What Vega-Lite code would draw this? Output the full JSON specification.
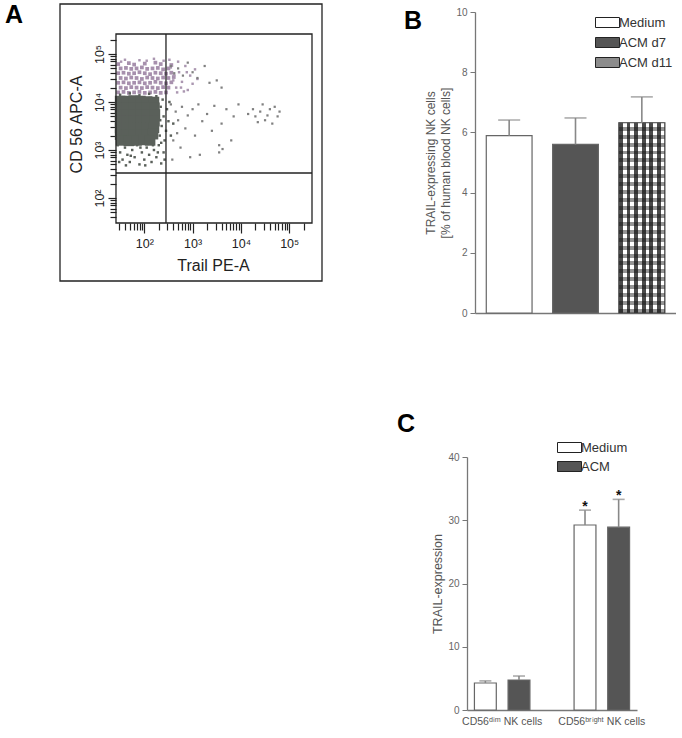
{
"$schema": "https://vega.github.io/schema/vega-lite/v6.json",
"background": "white",
"padding": {"left": 5, "top": 3, "right": 0, "bottom": 0},
"config": {"view": {"stroke": null}, "font": "Liberation Sans", "axis": {"labelOverlap": false}},
"spacing": 74,
"resolve": {"scale": {"fill": "independent", "color": "independent", "size": "independent"}, "legend": {"fill": "independent", "color": "independent", "size": "independent"}},
"hconcat": [
{
 "width": 262, "height": 269,
 "title": {"text": "A", "anchor": "start", "frame": "group", "dx": -55, "dy": 29, "fontSize": 25, "fontWeight": "bold", "color": "#000"},
 "layer": [
  {
   "data": {"values": [
{"pe":1.46,"cd56":4.79,"pop":"bright-dense"},{"pe":1.68,"cd56":4.81,"pop":"bright-dense"},{"pe":1.79,"cd56":4.78,"pop":"bright-dense"},{"pe":2.01,"cd56":4.80,"pop":"bright-dense"},{"pe":2.23,"cd56":4.82,"pop":"bright-dense"},{"pe":2.34,"cd56":4.79,"pop":"bright-dense"},{"pe":2.56,"cd56":4.77,"pop":"bright-dense"},
{"pe":1.51,"cd56":4.70,"pop":"bright-dense"},{"pe":1.62,"cd56":4.71,"pop":"bright-dense"},{"pe":1.73,"cd56":4.69,"pop":"bright-dense"},{"pe":1.84,"cd56":4.70,"pop":"bright-dense"},{"pe":1.95,"cd56":4.72,"pop":"bright-dense"},{"pe":2.06,"cd56":4.69,"pop":"bright-dense"},{"pe":2.17,"cd56":4.70,"pop":"bright-dense"},{"pe":2.28,"cd56":4.71,"pop":"bright-dense"},{"pe":2.39,"cd56":4.68,"pop":"bright-dense"},{"pe":2.50,"cd56":4.70,"pop":"bright-dense"},
{"pe":1.46,"cd56":4.60,"pop":"bright-dense"},{"pe":1.57,"cd56":4.61,"pop":"bright-dense"},{"pe":1.68,"cd56":4.59,"pop":"bright-dense"},{"pe":1.79,"cd56":4.60,"pop":"bright-dense"},{"pe":1.90,"cd56":4.62,"pop":"bright-dense"},{"pe":2.01,"cd56":4.60,"pop":"bright-dense"},{"pe":2.12,"cd56":4.58,"pop":"bright-dense"},{"pe":2.23,"cd56":4.61,"pop":"bright-dense"},{"pe":2.34,"cd56":4.60,"pop":"bright-dense"},{"pe":2.45,"cd56":4.59,"pop":"bright-dense"},{"pe":2.56,"cd56":4.61,"pop":"bright-dense"},
{"pe":1.51,"cd56":4.50,"pop":"bright-dense"},{"pe":1.62,"cd56":4.49,"pop":"bright-dense"},{"pe":1.73,"cd56":4.51,"pop":"bright-dense"},{"pe":1.84,"cd56":4.50,"pop":"bright-dense"},{"pe":1.95,"cd56":4.48,"pop":"bright-dense"},{"pe":2.06,"cd56":4.51,"pop":"bright-dense"},{"pe":2.17,"cd56":4.50,"pop":"bright-dense"},{"pe":2.28,"cd56":4.49,"pop":"bright-dense"},{"pe":2.39,"cd56":4.51,"pop":"bright-dense"},{"pe":2.50,"cd56":4.50,"pop":"bright-dense"},{"pe":2.61,"cd56":4.52,"pop":"bright-dense"},
{"pe":1.46,"cd56":4.40,"pop":"bright-dense"},{"pe":1.57,"cd56":4.41,"pop":"bright-dense"},{"pe":1.68,"cd56":4.39,"pop":"bright-dense"},{"pe":1.79,"cd56":4.40,"pop":"bright-dense"},{"pe":1.90,"cd56":4.41,"pop":"bright-dense"},{"pe":2.01,"cd56":4.39,"pop":"bright-dense"},{"pe":2.12,"cd56":4.40,"pop":"bright-dense"},{"pe":2.23,"cd56":4.42,"pop":"bright-dense"},{"pe":2.34,"cd56":4.40,"pop":"bright-dense"},{"pe":2.45,"cd56":4.39,"pop":"bright-dense"},{"pe":2.56,"cd56":4.41,"pop":"bright-dense"},
{"pe":1.51,"cd56":4.30,"pop":"bright-dense"},{"pe":1.62,"cd56":4.29,"pop":"bright-dense"},{"pe":1.73,"cd56":4.31,"pop":"bright-dense"},{"pe":1.84,"cd56":4.30,"pop":"bright-dense"},{"pe":1.95,"cd56":4.29,"pop":"bright-dense"},{"pe":2.06,"cd56":4.31,"pop":"bright-dense"},{"pe":2.17,"cd56":4.30,"pop":"bright-dense"},{"pe":2.28,"cd56":4.29,"pop":"bright-dense"},{"pe":2.39,"cd56":4.31,"pop":"bright-dense"},{"pe":2.50,"cd56":4.30,"pop":"bright-dense"},
{"pe":1.46,"cd56":4.20,"pop":"bright-dense"},{"pe":1.57,"cd56":4.21,"pop":"bright-dense"},{"pe":1.68,"cd56":4.19,"pop":"bright-dense"},{"pe":1.79,"cd56":4.20,"pop":"bright-dense"},{"pe":1.90,"cd56":4.21,"pop":"bright-dense"},{"pe":2.01,"cd56":4.19,"pop":"bright-dense"},{"pe":2.12,"cd56":4.20,"pop":"bright-dense"},{"pe":2.23,"cd56":4.21,"pop":"bright-dense"},{"pe":2.34,"cd56":4.19,"pop":"bright-dense"},{"pe":2.45,"cd56":4.20,"pop":"bright-dense"},
{"pe":2.55,"cd56":4.72,"pop":"bright"},{"pe":2.60,"cd56":4.45,"pop":"bright"},{"pe":2.66,"cd56":4.30,"pop":"bright"},{"pe":2.72,"cd56":4.62,"pop":"bright"},{"pe":2.78,"cd56":4.42,"pop":"bright"},{"pe":2.85,"cd56":4.75,"pop":"bright"},{"pe":2.90,"cd56":4.25,"pop":"bright"},{"pe":2.95,"cd56":4.55,"pop":"bright"},{"pe":3.00,"cd56":4.38,"pop":"bright"},{"pe":3.05,"cd56":4.68,"pop":"bright"},{"pe":2.68,"cd56":4.20,"pop":"bright"},{"pe":2.70,"cd56":4.84,"pop":"bright"},{"pe":2.82,"cd56":4.22,"pop":"bright"},{"pe":2.52,"cd56":4.88,"pop":"bright"},{"pe":1.60,"cd56":4.88,"pop":"bright"},{"pe":1.90,"cd56":4.87,"pop":"bright"},{"pe":2.20,"cd56":4.90,"pop":"bright"},{"pe":2.40,"cd56":4.86,"pop":"bright"},{"pe":3.10,"cd56":4.48,"pop":"bright"},{"pe":2.76,"cd56":4.30,"pop":"bright"},{"pe":1.52,"cd56":4.84,"pop":"bright"},{"pe":2.05,"cd56":4.86,"pop":"bright"},{"pe":2.62,"cd56":4.56,"pop":"bright"},{"pe":2.88,"cd56":4.62,"pop":"bright"},
{"pe":1.50,"cd56":4.02,"pop":"dim-dense"},{"pe":1.64,"cd56":4.02,"pop":"dim-dense"},{"pe":1.78,"cd56":4.03,"pop":"dim-dense"},{"pe":1.92,"cd56":4.02,"pop":"dim-dense"},{"pe":2.06,"cd56":4.01,"pop":"dim-dense"},{"pe":2.20,"cd56":4.00,"pop":"dim-dense"},
{"pe":1.50,"cd56":3.88,"pop":"dim-dense"},{"pe":1.64,"cd56":3.88,"pop":"dim-dense"},{"pe":1.78,"cd56":3.88,"pop":"dim-dense"},{"pe":1.92,"cd56":3.88,"pop":"dim-dense"},{"pe":2.06,"cd56":3.88,"pop":"dim-dense"},{"pe":2.21,"cd56":3.88,"pop":"dim-dense"},
{"pe":1.50,"cd56":3.74,"pop":"dim-dense"},{"pe":1.64,"cd56":3.74,"pop":"dim-dense"},{"pe":1.78,"cd56":3.74,"pop":"dim-dense"},{"pe":1.92,"cd56":3.74,"pop":"dim-dense"},{"pe":2.06,"cd56":3.74,"pop":"dim-dense"},{"pe":2.22,"cd56":3.74,"pop":"dim-dense"},
{"pe":1.50,"cd56":3.60,"pop":"dim-dense"},{"pe":1.64,"cd56":3.60,"pop":"dim-dense"},{"pe":1.78,"cd56":3.60,"pop":"dim-dense"},{"pe":1.92,"cd56":3.60,"pop":"dim-dense"},{"pe":2.06,"cd56":3.60,"pop":"dim-dense"},{"pe":2.21,"cd56":3.60,"pop":"dim-dense"},
{"pe":1.50,"cd56":3.46,"pop":"dim-dense"},{"pe":1.64,"cd56":3.46,"pop":"dim-dense"},{"pe":1.78,"cd56":3.46,"pop":"dim-dense"},{"pe":1.92,"cd56":3.46,"pop":"dim-dense"},{"pe":2.06,"cd56":3.46,"pop":"dim-dense"},{"pe":2.20,"cd56":3.46,"pop":"dim-dense"},
{"pe":1.50,"cd56":3.32,"pop":"dim-dense"},{"pe":1.64,"cd56":3.32,"pop":"dim-dense"},{"pe":1.78,"cd56":3.32,"pop":"dim-dense"},{"pe":1.92,"cd56":3.32,"pop":"dim-dense"},{"pe":2.06,"cd56":3.32,"pop":"dim-dense"},{"pe":2.18,"cd56":3.33,"pop":"dim-dense"},
{"pe":1.52,"cd56":3.20,"pop":"dim-dense"},{"pe":1.68,"cd56":3.19,"pop":"dim-dense"},{"pe":1.84,"cd56":3.20,"pop":"dim-dense"},{"pe":1.98,"cd56":3.21,"pop":"dim-dense"},{"pe":2.12,"cd56":3.20,"pop":"dim-dense"},
{"pe":1.45,"cd56":3.10,"pop":"dim"},{"pe":1.50,"cd56":2.95,"pop":"dim"},{"pe":1.55,"cd56":2.80,"pop":"dim"},{"pe":1.60,"cd56":3.05,"pop":"dim"},{"pe":1.65,"cd56":2.90,"pop":"dim"},{"pe":1.70,"cd56":2.75,"pop":"dim"},{"pe":1.75,"cd56":3.00,"pop":"dim"},{"pe":1.80,"cd56":2.85,"pop":"dim"},{"pe":1.85,"cd56":3.10,"pop":"dim"},{"pe":1.90,"cd56":2.70,"pop":"dim"},{"pe":1.95,"cd56":2.95,"pop":"dim"},{"pe":2.00,"cd56":2.80,"pop":"dim"},{"pe":2.05,"cd56":3.05,"pop":"dim"},{"pe":2.10,"cd56":2.90,"pop":"dim"},{"pe":2.15,"cd56":2.75,"pop":"dim"},{"pe":2.20,"cd56":3.00,"pop":"dim"},{"pe":2.25,"cd56":2.85,"pop":"dim"},{"pe":2.30,"cd56":3.10,"pop":"dim"},{"pe":2.35,"cd56":2.72,"pop":"dim"},{"pe":2.40,"cd56":2.95,"pop":"dim"},{"pe":1.48,"cd56":2.75,"pop":"dim"},{"pe":1.62,"cd56":2.68,"pop":"dim"},{"pe":1.78,"cd56":3.12,"pop":"dim"},{"pe":1.92,"cd56":3.05,"pop":"dim"},{"pe":2.02,"cd56":2.68,"pop":"dim"},{"pe":2.18,"cd56":3.10,"pop":"dim"},{"pe":2.28,"cd56":2.95,"pop":"dim"},{"pe":2.42,"cd56":2.80,"pop":"dim"},{"pe":1.58,"cd56":3.15,"pop":"dim"},{"pe":1.72,"cd56":2.88,"pop":"dim"},
{"pe":2.32,"cd56":3.30,"pop":"dim"},{"pe":2.36,"cd56":3.50,"pop":"dim"},{"pe":2.40,"cd56":3.70,"pop":"dim"},{"pe":2.34,"cd56":3.90,"pop":"dim"},{"pe":2.38,"cd56":4.05,"pop":"dim"},{"pe":2.45,"cd56":3.40,"pop":"dim"},{"pe":2.50,"cd56":3.60,"pop":"dim"},{"pe":2.47,"cd56":3.85,"pop":"dim"},{"pe":2.55,"cd56":3.30,"pop":"dim"},{"pe":2.42,"cd56":3.20,"pop":"dim"},{"pe":2.33,"cd56":3.62,"pop":"dim"},{"pe":2.52,"cd56":4.00,"pop":"dim"},{"pe":2.60,"cd56":3.55,"pop":"dim"},{"pe":2.35,"cd56":3.15,"pop":"dim"},
{"pe":1.50,"cd56":4.15,"pop":"dim"},{"pe":1.70,"cd56":4.18,"pop":"dim"},{"pe":1.90,"cd56":4.14,"pop":"dim"},{"pe":2.10,"cd56":4.17,"pop":"dim"},{"pe":2.25,"cd56":4.12,"pop":"dim"},{"pe":1.44,"cd56":3.50,"pop":"dim"},{"pe":1.44,"cd56":3.80,"pop":"dim"},{"pe":1.45,"cd56":3.30,"pop":"dim"},{"pe":1.44,"cd56":4.00,"pop":"dim"},
{"pe":2.55,"cd56":4.75,"pop":"other"},{"pe":2.62,"cd56":4.60,"pop":"other"},{"pe":2.70,"cd56":4.70,"pop":"other"},{"pe":2.80,"cd56":4.55,"pop":"other"},{"pe":2.90,"cd56":4.82,"pop":"other"},{"pe":3.00,"cd56":4.62,"pop":"other"},{"pe":3.10,"cd56":4.50,"pop":"other"},{"pe":3.25,"cd56":4.75,"pop":"other"},{"pe":3.35,"cd56":4.40,"pop":"other"},{"pe":3.50,"cd56":4.45,"pop":"other"},{"pe":3.60,"cd56":4.30,"pop":"other"},
{"pe":2.55,"cd56":3.95,"pop":"other"},{"pe":2.65,"cd56":3.80,"pop":"other"},{"pe":2.70,"cd56":3.62,"pop":"other"},{"pe":2.78,"cd56":3.90,"pop":"other"},{"pe":2.85,"cd56":3.45,"pop":"other"},{"pe":2.90,"cd56":3.72,"pop":"other"},{"pe":3.00,"cd56":3.85,"pop":"other"},{"pe":3.05,"cd56":3.30,"pop":"other"},{"pe":3.12,"cd56":3.95,"pop":"other"},{"pe":3.20,"cd56":3.60,"pop":"other"},{"pe":3.30,"cd56":3.75,"pop":"other"},{"pe":3.40,"cd56":3.40,"pop":"other"},{"pe":3.45,"cd56":3.92,"pop":"other"},{"pe":3.55,"cd56":3.10,"pop":"other"},{"pe":3.60,"cd56":3.55,"pop":"other"},{"pe":3.70,"cd56":3.85,"pop":"other"},{"pe":3.80,"cd56":3.20,"pop":"other"},{"pe":3.85,"cd56":3.70,"pop":"other"},{"pe":3.95,"cd56":3.95,"pop":"other"},{"pe":2.60,"cd56":3.20,"pop":"other"},{"pe":2.75,"cd56":3.05,"pop":"other"},{"pe":2.95,"cd56":2.85,"pop":"other"},{"pe":3.15,"cd56":2.90,"pop":"other"},{"pe":2.58,"cd56":2.80,"pop":"other"},{"pe":3.55,"cd56":2.95,"pop":"other"},{"pe":3.62,"cd56":3.02,"pop":"other"},{"pe":2.68,"cd56":3.35,"pop":"other"},
{"pe":4.15,"cd56":3.75,"pop":"other"},{"pe":4.25,"cd56":3.85,"pop":"other"},{"pe":4.30,"cd56":3.70,"pop":"other"},{"pe":4.40,"cd56":3.80,"pop":"other"},{"pe":4.45,"cd56":3.95,"pop":"other"},{"pe":4.55,"cd56":3.72,"pop":"other"},{"pe":4.60,"cd56":3.85,"pop":"other"},{"pe":4.70,"cd56":3.90,"pop":"other"},{"pe":4.76,"cd56":3.70,"pop":"other"},{"pe":4.65,"cd56":3.55,"pop":"other"},{"pe":4.80,"cd56":3.80,"pop":"other"},{"pe":4.50,"cd56":3.62,"pop":"other"},{"pe":4.35,"cd56":3.58,"pop":"other"}
   ]},
   "mark": {"type": "point", "shape": "square", "filled": true, "opacity": 1, "strokeWidth": 0},
   "encoding": {
    "x": {"field": "pe", "type": "quantitative", "scale": {"domain": [0.255, 5.679], "nice": false, "zero": false},
     "axis": {"title": "Trail PE-A", "offset": -58, "domain": false, "grid": false, "tickCount": 80,
      "values": [1.477,1.602,1.699,1.778,1.845,1.903,1.954,2,2.301,2.477,2.602,2.699,2.778,2.845,2.903,2.954,3,3.301,3.477,3.602,3.699,3.778,3.845,3.903,3.954,4,4.301,4.477,4.602,4.699,4.778,4.845,4.903,4.954,5,5.301],
      "labelExpr": "datum.value == 2 ? '10²' : datum.value == 3 ? '10³' : datum.value == 4 ? '10⁴' : datum.value == 5 ? '10⁵' : ''",
      "tickSize": {"condition": {"test": "datum.value % 1 == 0", "value": 10}, "value": 7},
      "tickColor": "#222", "tickWidth": 1.2, "labelFontSize": 12.5, "labelColor": "#222", "labelPadding": 4, "labelFlush": false, "labelOverlap": false,
      "titleFontSize": 16, "titleFontWeight": "normal", "titleColor": "#222", "titleX": 153, "titleY": 47, "titleBaseline": "alphabetic", "titleAlign": "center"}},
    "y": {"field": "cd56", "type": "quantitative", "scale": {"domain": [0.271, 5.875], "nice": false, "zero": false},
     "axis": {"title": "CD 56 APC-A", "offset": -56, "domain": false, "grid": false, "tickCount": 80,
      "values": [1.602,1.699,1.778,1.845,1.903,1.954,2,2.301,2.477,2.602,2.699,2.778,2.845,2.903,2.954,3,3.301,3.477,3.602,3.699,3.778,3.845,3.903,3.954,4,4.301,4.477,4.602,4.699,4.778,4.845,4.903,4.954,5,5.301],
      "labelExpr": "datum.value == 2 ? '10²' : datum.value == 3 ? '10³' : datum.value == 4 ? '10⁴' : datum.value == 5 ? '10⁵' : ''",
      "tickSize": {"condition": {"test": "datum.value % 1 == 0", "value": 8}, "value": 6},
      "tickColor": "#222", "tickWidth": 1.2, "labelFontSize": 12.5, "labelColor": "#222", "labelAngle": 270, "labelAlign": "center", "labelBaseline": "bottom", "labelPadding": 2, "labelFlush": false, "labelOverlap": false,
      "titleFontSize": 16, "titleFontWeight": "normal", "titleColor": "#222", "titleX": -32, "titleY": 112, "titleAngle": 270, "titleBaseline": "bottom", "titleAlign": "center"}},
    "color": {"field": "pop", "type": "nominal", "scale": {"domain": ["bright-dense","bright","dim-dense","dim","other"], "range": ["#a790ad","#ab97b1","#5a605a","#5a605a","#808080"]}, "legend": null},
    "size": {"field": "pop", "type": "nominal", "scale": {"type": "ordinal", "domain": ["bright-dense","bright","dim-dense","dim","other"], "range": [14,6,112,6,5]}, "legend": null}
   }
  },
  {
   "data": {"values": [{"left": 1.414, "right": 5.472, "bottom": 1.479, "top": 5.417}, {"left": 0.255, "right": 5.679, "bottom": 0.271, "top": 6.042}]},
   "mark": {"type": "rect", "fill": null, "stroke": "#222", "strokeWidth": 1.3},
   "encoding": {
    "x": {"field": "left", "type": "quantitative", "scale": {"domain": [0.255, 5.679], "nice": false, "zero": false}},
    "x2": {"field": "right"},
    "y": {"field": "bottom", "type": "quantitative", "scale": {"domain": [0.271, 5.875], "nice": false, "zero": false}},
    "y2": {"field": "top"}
   }
  },
  {
   "data": {"values": [{"gate": 2.449, "from": 1.479, "to": 5.417}]},
   "mark": {"type": "rule", "color": "#222", "strokeWidth": 1.3},
   "encoding": {
    "x": {"field": "gate", "type": "quantitative", "scale": {"domain": [0.255, 5.679], "nice": false, "zero": false}},
    "y": {"field": "from", "type": "quantitative", "scale": {"domain": [0.271, 5.875], "nice": false, "zero": false}},
    "y2": {"field": "to"}
   }
  },
  {
   "data": {"values": [{"gate": 2.521, "from": 1.414, "to": 5.472}]},
   "mark": {"type": "rule", "color": "#222", "strokeWidth": 1.3},
   "encoding": {
    "y": {"field": "gate", "type": "quantitative", "scale": {"domain": [0.271, 5.875], "nice": false, "zero": false}},
    "x": {"field": "from", "type": "quantitative", "scale": {"domain": [0.255, 5.679], "nice": false, "zero": false}},
    "x2": {"field": "to"}
   }
  }
 ]
},
{
 "spacing": 94,
 "resolve": {"scale": {"fill": "independent"}, "legend": {"fill": "independent"}},
 "vconcat": [
  {
   "width": 201, "height": 301,
   "title": {"text": "B", "anchor": "start", "frame": "group", "dx": -71, "dy": 31, "fontSize": 25, "fontWeight": "bold", "color": "#000"},
   "data": {"values": [
    {"condition": "Medium", "mean": 5.89, "upper": 6.41},
    {"condition": "ACM d7", "mean": 5.6, "upper": 6.48},
    {"condition": "ACM d11", "mean": 6.32, "upper": 7.18}
   ]},
   "encoding": {
    "x": {"field": "condition", "type": "nominal", "sort": null, "scale": {"paddingInner": 0.31, "paddingOuter": 0.17},
     "axis": {"title": null, "labels": false, "ticks": false, "domainColor": "#777", "domainWidth": 1.3}}
   },
   "layer": [
    {
     "mark": {"type": "bar", "stroke": "#666", "strokeWidth": 1.2},
     "encoding": {
      "y": {"field": "mean", "type": "quantitative", "scale": {"domain": [0, 10], "nice": false},
       "axis": {"title": ["TRAIL-expressing NK cells", "[% of human blood NK cells]"], "values": [0,2,4,6,8,10], "grid": false,
        "domainColor": "#777", "domainWidth": 1.3, "tickColor": "#777", "tickSize": 5, "labelColor": "#666", "labelFontSize": 10, "labelPadding": 3,
        "titleFontSize": 12, "titleColor": "#555", "titleFontWeight": "normal", "titlePadding": 3, "titleLineHeight": 15}},
      "fill": {"field": "condition", "type": "nominal", "sort": null,
       "scale": {"domain": ["Medium", "ACM d7", "ACM d11"], "range": ["#ffffff", "#555555", "#8c8c8c"]},
       "legend": {"title": null, "orient": "none", "legendX": 122, "legendY": 0, "symbolType": "M-1.2,-0.5H1.2V0.5H-1.2Z", "symbolSize": 400,
        "labelFontSize": 13, "labelColor": "#333", "labelOffset": 1, "rowPadding": 2, "symbolStrokeWidth": 1, "symbolStrokeColor": "#222"}}
     }
    },
    {
     "transform": [{"filter": "datum.condition === 'ACM d11'"}],
     "mark": {"type": "bar", "stroke": "#555", "strokeWidth": 1.2, "fill": {"gradient": "linear", "x1": 0, "y1": 0, "x2": 1, "y2": 0, "stops": [
      {"offset":0,"color":"#4a4a4a"},{"offset":0.0833,"color":"#4a4a4a"},{"offset":0.0833,"color":"#ffffff"},{"offset":0.1667,"color":"#ffffff"},
      {"offset":0.1667,"color":"#4a4a4a"},{"offset":0.25,"color":"#4a4a4a"},{"offset":0.25,"color":"#ffffff"},{"offset":0.3333,"color":"#ffffff"},
      {"offset":0.3333,"color":"#4a4a4a"},{"offset":0.4167,"color":"#4a4a4a"},{"offset":0.4167,"color":"#ffffff"},{"offset":0.5,"color":"#ffffff"},
      {"offset":0.5,"color":"#4a4a4a"},{"offset":0.5833,"color":"#4a4a4a"},{"offset":0.5833,"color":"#ffffff"},{"offset":0.6667,"color":"#ffffff"},
      {"offset":0.6667,"color":"#4a4a4a"},{"offset":0.75,"color":"#4a4a4a"},{"offset":0.75,"color":"#ffffff"},{"offset":0.8333,"color":"#ffffff"},
      {"offset":0.8333,"color":"#4a4a4a"},{"offset":0.9167,"color":"#4a4a4a"},{"offset":0.9167,"color":"#ffffff"},{"offset":1,"color":"#ffffff"}]}},
     "encoding": {"y": {"field": "mean", "type": "quantitative"}}
    },
    {
     "transform": [{"filter": "datum.condition === 'ACM d11'"}],
     "mark": {"type": "bar", "strokeWidth": 0, "fill": {"gradient": "linear", "x1": 0, "y1": 0, "x2": 0, "y2": 1, "stops": [
      {"offset":0,"color":"rgba(0,0,0,0)"},{"offset":0.0208,"color":"rgba(0,0,0,0)"},{"offset":0.0208,"color":"rgba(20,20,20,0.45)"},{"offset":0.0417,"color":"rgba(20,20,20,0.45)"},
      {"offset":0.0417,"color":"rgba(0,0,0,0)"},{"offset":0.0625,"color":"rgba(0,0,0,0)"},{"offset":0.0625,"color":"rgba(20,20,20,0.45)"},{"offset":0.0833,"color":"rgba(20,20,20,0.45)"},
      {"offset":0.0833,"color":"rgba(0,0,0,0)"},{"offset":0.1042,"color":"rgba(0,0,0,0)"},{"offset":0.1042,"color":"rgba(20,20,20,0.45)"},{"offset":0.125,"color":"rgba(20,20,20,0.45)"},
      {"offset":0.125,"color":"rgba(0,0,0,0)"},{"offset":0.1458,"color":"rgba(0,0,0,0)"},{"offset":0.1458,"color":"rgba(20,20,20,0.45)"},{"offset":0.1667,"color":"rgba(20,20,20,0.45)"},
      {"offset":0.1667,"color":"rgba(0,0,0,0)"},{"offset":0.1875,"color":"rgba(0,0,0,0)"},{"offset":0.1875,"color":"rgba(20,20,20,0.45)"},{"offset":0.2083,"color":"rgba(20,20,20,0.45)"},
      {"offset":0.2083,"color":"rgba(0,0,0,0)"},{"offset":0.2292,"color":"rgba(0,0,0,0)"},{"offset":0.2292,"color":"rgba(20,20,20,0.45)"},{"offset":0.25,"color":"rgba(20,20,20,0.45)"},
      {"offset":0.25,"color":"rgba(0,0,0,0)"},{"offset":0.2708,"color":"rgba(0,0,0,0)"},{"offset":0.2708,"color":"rgba(20,20,20,0.45)"},{"offset":0.2917,"color":"rgba(20,20,20,0.45)"},
      {"offset":0.2917,"color":"rgba(0,0,0,0)"},{"offset":0.3125,"color":"rgba(0,0,0,0)"},{"offset":0.3125,"color":"rgba(20,20,20,0.45)"},{"offset":0.3333,"color":"rgba(20,20,20,0.45)"},
      {"offset":0.3333,"color":"rgba(0,0,0,0)"},{"offset":0.3542,"color":"rgba(0,0,0,0)"},{"offset":0.3542,"color":"rgba(20,20,20,0.45)"},{"offset":0.375,"color":"rgba(20,20,20,0.45)"},
      {"offset":0.375,"color":"rgba(0,0,0,0)"},{"offset":0.3958,"color":"rgba(0,0,0,0)"},{"offset":0.3958,"color":"rgba(20,20,20,0.45)"},{"offset":0.4167,"color":"rgba(20,20,20,0.45)"},
      {"offset":0.4167,"color":"rgba(0,0,0,0)"},{"offset":0.4375,"color":"rgba(0,0,0,0)"},{"offset":0.4375,"color":"rgba(20,20,20,0.45)"},{"offset":0.4583,"color":"rgba(20,20,20,0.45)"},
      {"offset":0.4583,"color":"rgba(0,0,0,0)"},{"offset":0.4792,"color":"rgba(0,0,0,0)"},{"offset":0.4792,"color":"rgba(20,20,20,0.45)"},{"offset":0.5,"color":"rgba(20,20,20,0.45)"},
      {"offset":0.5,"color":"rgba(0,0,0,0)"},{"offset":0.5208,"color":"rgba(0,0,0,0)"},{"offset":0.5208,"color":"rgba(20,20,20,0.45)"},{"offset":0.5417,"color":"rgba(20,20,20,0.45)"},
      {"offset":0.5417,"color":"rgba(0,0,0,0)"},{"offset":0.5625,"color":"rgba(0,0,0,0)"},{"offset":0.5625,"color":"rgba(20,20,20,0.45)"},{"offset":0.5833,"color":"rgba(20,20,20,0.45)"},
      {"offset":0.5833,"color":"rgba(0,0,0,0)"},{"offset":0.6042,"color":"rgba(0,0,0,0)"},{"offset":0.6042,"color":"rgba(20,20,20,0.45)"},{"offset":0.625,"color":"rgba(20,20,20,0.45)"},
      {"offset":0.625,"color":"rgba(0,0,0,0)"},{"offset":0.6458,"color":"rgba(0,0,0,0)"},{"offset":0.6458,"color":"rgba(20,20,20,0.45)"},{"offset":0.6667,"color":"rgba(20,20,20,0.45)"},
      {"offset":0.6667,"color":"rgba(0,0,0,0)"},{"offset":0.6875,"color":"rgba(0,0,0,0)"},{"offset":0.6875,"color":"rgba(20,20,20,0.45)"},{"offset":0.7083,"color":"rgba(20,20,20,0.45)"},
      {"offset":0.7083,"color":"rgba(0,0,0,0)"},{"offset":0.7292,"color":"rgba(0,0,0,0)"},{"offset":0.7292,"color":"rgba(20,20,20,0.45)"},{"offset":0.75,"color":"rgba(20,20,20,0.45)"},
      {"offset":0.75,"color":"rgba(0,0,0,0)"},{"offset":0.7708,"color":"rgba(0,0,0,0)"},{"offset":0.7708,"color":"rgba(20,20,20,0.45)"},{"offset":0.7917,"color":"rgba(20,20,20,0.45)"},
      {"offset":0.7917,"color":"rgba(0,0,0,0)"},{"offset":0.8125,"color":"rgba(0,0,0,0)"},{"offset":0.8125,"color":"rgba(20,20,20,0.45)"},{"offset":0.8333,"color":"rgba(20,20,20,0.45)"},
      {"offset":0.8333,"color":"rgba(0,0,0,0)"},{"offset":0.8542,"color":"rgba(0,0,0,0)"},{"offset":0.8542,"color":"rgba(20,20,20,0.45)"},{"offset":0.875,"color":"rgba(20,20,20,0.45)"},
      {"offset":0.875,"color":"rgba(0,0,0,0)"},{"offset":0.8958,"color":"rgba(0,0,0,0)"},{"offset":0.8958,"color":"rgba(20,20,20,0.45)"},{"offset":0.9167,"color":"rgba(20,20,20,0.45)"},
      {"offset":0.9167,"color":"rgba(0,0,0,0)"},{"offset":0.9375,"color":"rgba(0,0,0,0)"},{"offset":0.9375,"color":"rgba(20,20,20,0.45)"},{"offset":0.9583,"color":"rgba(20,20,20,0.45)"},
      {"offset":0.9583,"color":"rgba(0,0,0,0)"},{"offset":0.9792,"color":"rgba(0,0,0,0)"},{"offset":0.9792,"color":"rgba(20,20,20,0.45)"},{"offset":1,"color":"rgba(20,20,20,0.45)"}]}},
     "encoding": {"y": {"field": "mean", "type": "quantitative"}}
    },
    {
     "mark": {"type": "rule", "color": "#888", "strokeWidth": 1.6},
     "encoding": {"y": {"field": "mean", "type": "quantitative"}, "y2": {"field": "upper"}}
    },
    {
     "mark": {"type": "tick", "color": "#888", "thickness": 1.6, "size": 22},
     "encoding": {"y": {"field": "upper", "type": "quantitative"}}
    }
   ]
  },
  {
   "width": 162, "height": 253,
   "title": {"text": "C", "anchor": "start", "frame": "group", "dx": -78, "offset": 0, "fontSize": 25, "fontWeight": "bold", "color": "#000"},
   "data": {"values": [
    {"cells": "CD56ᵈⁱᵐ NK cells", "treatment": "Medium", "mean": 4.27, "upper": 4.6, "sig": ""},
    {"cells": "CD56ᵈⁱᵐ NK cells", "treatment": "ACM", "mean": 4.74, "upper": 5.37, "sig": ""},
    {"cells": "CD56ᵇʳⁱᵍʰᵗ NK cells", "treatment": "Medium", "mean": 29.25, "upper": 31.6, "sig": "*"},
    {"cells": "CD56ᵇʳⁱᵍʰᵗ NK cells", "treatment": "ACM", "mean": 28.9, "upper": 33.3, "sig": "*"}
   ]},
   "encoding": {
    "x": {"field": "cells", "type": "nominal", "sort": null, "scale": {"range": [-8, 162], "paddingInner": 0.443, "paddingOuter": 0.0745},
     "axis": {"title": null, "labelAngle": 0, "ticks": false, "domainColor": "#777", "domainWidth": 1.3, "labelColor": "#555", "labelFontSize": 10.5, "labelPadding": 6}},
    "xOffset": {"field": "treatment", "type": "nominal", "sort": null, "scale": {"domain": ["Medium", "ACM"], "paddingInner": 0.35, "paddingOuter": 0}}
   },
   "layer": [
    {
     "mark": {"type": "bar", "stroke": "#666", "strokeWidth": 1.2},
     "encoding": {
      "y": {"field": "mean", "type": "quantitative", "scale": {"domain": [0, 40], "nice": false},
       "axis": {"title": "TRAIL-expression", "values": [0,10,20,30,40], "grid": false, "offset": 8,
        "domainColor": "#777", "domainWidth": 1.3, "tickColor": "#777", "tickSize": 5, "labelColor": "#666", "labelFontSize": 10, "labelPadding": 3,
        "titleFontSize": 12.5, "titleColor": "#555", "titleFontWeight": "normal", "titlePadding": 3}},
      "fill": {"field": "treatment", "type": "nominal", "sort": null,
       "scale": {"domain": ["Medium", "ACM"], "range": ["#ffffff", "#555555"]},
       "legend": {"title": null, "orient": "none", "legendX": 84, "legendY": -20, "symbolType": "M-1.2,-0.5H1.2V0.5H-1.2Z", "symbolSize": 400,
        "labelFontSize": 13, "labelColor": "#333", "labelOffset": 1, "rowPadding": 1, "symbolStrokeWidth": 1, "symbolStrokeColor": "#222"}}
     }
    },
    {
     "mark": {"type": "rule", "color": "#888", "strokeWidth": 1.6},
     "encoding": {"y": {"field": "mean", "type": "quantitative"}, "y2": {"field": "upper"}}
    },
    {
     "mark": {"type": "tick", "color": "#888", "thickness": 1.6, "size": 12},
     "encoding": {"y": {"field": "upper", "type": "quantitative"}}
    },
    {
     "mark": {"type": "text", "fontSize": 14, "fontWeight": "bold", "color": "#111", "baseline": "alphabetic", "dy": 1},
     "encoding": {"y": {"field": "upper", "type": "quantitative"}, "text": {"field": "sig"}}
    }
   ]
  }
 ]
}
]
}
